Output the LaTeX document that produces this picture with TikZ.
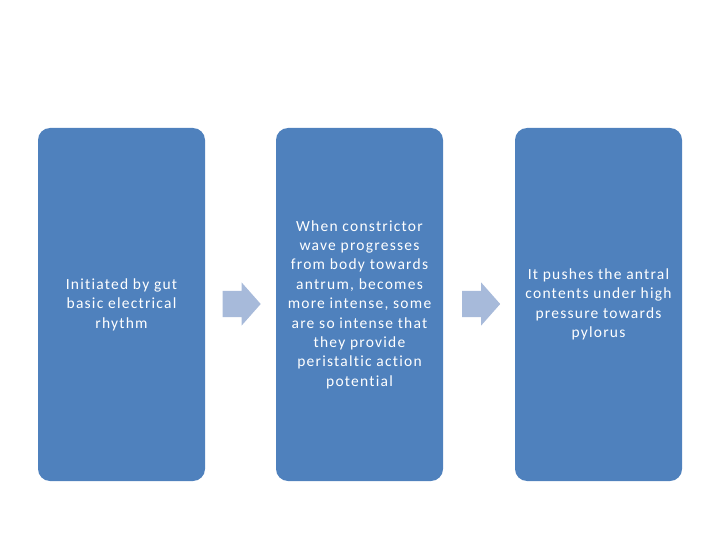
\documentclass[tikz,border=0pt]{standalone}
\usepackage{fontspec}
\setmainfont{Carlito}
\newfontfamily\boxfont[LetterSpace=8,Ligatures=NoCommon]{Carlito}
\usetikzlibrary{shapes.arrows}
\definecolor{boxblue}{HTML}{4F81BD}
\definecolor{arrowblue}{HTML}{A7BADA}
\tikzset{
  stepbox/.style={fill=boxblue, draw=none, rounded corners=12pt,
    minimum width=167pt, minimum height=353pt, text=white,
    align=center, font=\boxfont\fontsize{15.5}{19.4}\selectfont, inner sep=0pt},
  flow/.style={single arrow, fill=arrowblue, draw=none,
    inner xsep=0pt, inner ysep=13pt,
    minimum width=43pt, minimum height=38pt,
    single arrow head extend=8.5pt, single arrow tip angle=97, anchor=tail}
}
\begin{document}
\begin{tikzpicture}[x=1pt,y=-1pt]
  \useasboundingbox (0,0) rectangle (720,540);
  \draw
    (121.5,304.5) node[stepbox] (1){Initiated by gut\\basic electrical\\rhythm}
    (359.5,304.5) node[stepbox] (2){When constrictor\\wave progresses\\from body towards\\antrum, becomes\\more intense, some\\are so intense that\\they provide\\peristaltic action\\potential}
    (598.5,304.5) node[stepbox] (3){It pushes the antral\\contents under high\\pressure towards\\pylorus};
  \node[flow] (a) at (222.5,304) {};
  \node[flow] (b) at (462,304) {};
\end{tikzpicture}
\end{document}
